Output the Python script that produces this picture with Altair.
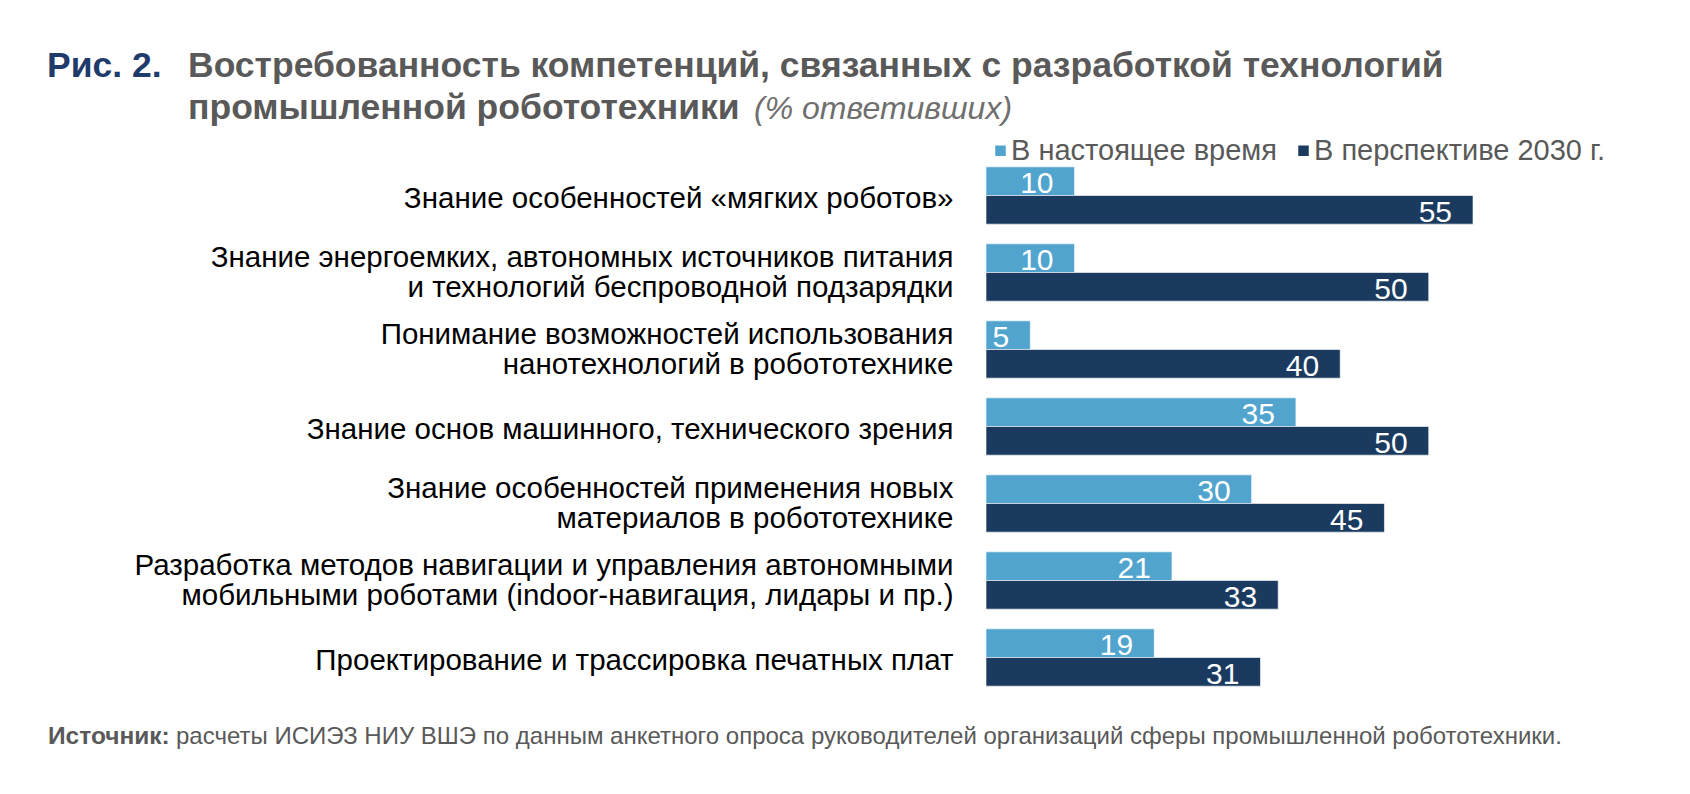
import altair as alt
import pandas as pd

# ---- data ----
categories = [
    "Знание особенностей «мягких роботов»",
    "Знание энергоемких, автономных источников питания\nи технологий беспроводной подзарядки",
    "Понимание возможностей использования\nнанотехнологий в робототехнике",
    "Знание основ машинного, технического зрения",
    "Знание особенностей применения новых\nматериалов в робототехнике",
    "Разработка методов навигации и управления автономными\nмобильными роботами (indoor-навигация, лидары и пр.)",
    "Проектирование и трассировка печатных плат",
]
series = ["В настоящее время", "В перспективе 2030 г."]
now_values = [10, 10, 5, 35, 30, 21, 19]
future_values = [55, 50, 40, 50, 45, 33, 31]
colors = ["#50a4cd", "#1a3b5f"]

fig_label = "Рис. 2."
title_line1 = "Востребованность компетенций, связанных с разработкой технологий"
title_line2 = "промышленной робототехники"
title_note = "(% ответивших)"
source_bold = "Источник:"
source_text = ("расчеты ИСИЭЗ НИУ ВШЭ по данным анкетного опроса руководителей "
               "организаций сферы промышленной робототехники.")

FONT = "Liberation Sans, Arial, sans-serif"

rows = []
for c, a, b in zip(categories, now_values, future_values):
    rows.append({"category": c, "series": series[0], "value": a})
    rows.append({"category": c, "series": series[1], "value": b})
df = pd.DataFrame(rows)

base = alt.Chart(df).encode(
    y=alt.Y(
        "category:N",
        sort=categories,
        scale=alt.Scale(paddingInner=0.256, paddingOuter=0.128),
        axis=alt.Axis(
            title=None, ticks=False, domain=False, grid=False,
            labelFontSize=29.5, labelColor="#000000", labelFont=FONT,
            labelPadding=33, labelLimit=2000, labelLineHeight=30,
            labelExpr="split(datum.label, '\\n')",
            labelOffset={
                "condition": {"test": "indexof(datum.value, '\\n') >= 0", "value": -14.5},
                "value": 3,
            },
        ),
    ),
    yOffset=alt.YOffset("series:N", sort=series,
                        scale=alt.Scale(paddingInner=0, paddingOuter=0)),
    x=alt.X("value:Q", scale=alt.Scale(domain=[0, 55], nice=False), axis=None),
)

bars = base.mark_bar(stroke="white", strokeWidth=0.6).encode(
    color=alt.Color(
        "series:N", sort=series,
        scale=alt.Scale(domain=series, range=colors),
        legend=alt.Legend(
            title=None, orient="none", legendX=0, legendY=-21,
            direction="horizontal", symbolType="square", symbolSize=110,
            symbolStrokeWidth=0, labelFontSize=29, labelColor="#595959",
            labelFont=FONT, columnPadding=12, labelOffset={"expr": "-4"},
            padding=0, labelLimit=1000,
        ),
    )
)

labels = base.mark_text(
    align="right", baseline="middle", dx=-21, dy=3,
    color="white", fontSize=30, font=FONT,
).encode(text="value:Q")


def note(txt, x, y, **kw):
    return alt.Chart(pd.DataFrame({"t": [txt]})).mark_text(
        align="left", baseline="alphabetic", **kw
    ).encode(x=alt.value(x), y=alt.value(y), text="t:N")


t1 = note(fig_label, -939, -80, fontSize=35.5, fontWeight="bold", color="#1f3b6b", font=FONT)
t2 = note(title_line1, -798, -80, fontSize=35.5, fontWeight="bold", color="#595959", font=FONT)
t3 = note(title_line2, -798, -38, fontSize=35.5, fontWeight="bold", color="#595959", font=FONT)
t4 = note(title_note, -232, -38, fontSize=32, fontStyle="italic", color="#6f6f6f", font=FONT)
s1 = note(source_bold, -938, 587, fontSize=24.5, fontWeight="bold", color="#595959", font=FONT)
s2 = note(source_text, -810, 587, fontSize=24, color="#595959", font=FONT)

chart = alt.layer(bars, labels, t1, t2, t3, t4, s1, s2).properties(
    width=487, height=539,
    autosize=alt.AutoSizeParams(type="none"),
    padding={"left": 978, "top": 149, "right": 209, "bottom": 82},
).configure_view(stroke=None)

chart.save("out.html", embed_options={"renderer": "svg", "actions": False})
